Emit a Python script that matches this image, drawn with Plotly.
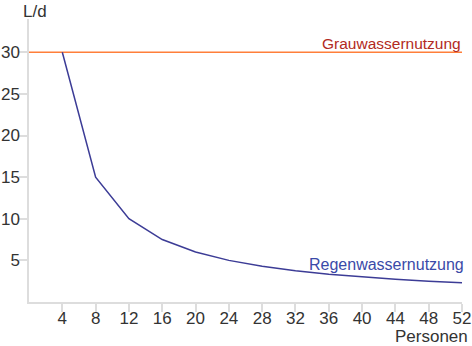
import plotly.graph_objects as go

personen = [4, 8, 12, 16, 20, 24, 28, 32, 36, 40, 44, 48, 52]
regenwasser = [30, 15, 10, 7.5, 6, 5, 4.3, 3.75, 3.33, 3, 2.73, 2.5, 2.31]
grau_x = [0, 52]
grau_y = [30, 30]
x_ticks = [4, 8, 12, 16, 20, 24, 28, 32, 36, 40, 44, 48, 52]
y_ticks = [5, 10, 15, 20, 25, 30]

fig = go.Figure()
fig.add_trace(go.Scatter(x=grau_x, y=grau_y, mode="lines",
                         line=dict(color="#ff7f3a", width=1.5), showlegend=False))
fig.add_trace(go.Scatter(x=personen, y=regenwasser, mode="lines",
                         line=dict(color="#3c3c96", width=1.5), showlegend=False))

fam = "Liberation Sans, Arial, sans-serif"
font = dict(family=fam, size=17, color="#333333")
axis_common = dict(showgrid=False, zeroline=False, automargin=False,
                   showline=True, linecolor="#dddddd", linewidth=1.5,
                   ticks="outside", ticklen=8, tickcolor="#dddddd", tickwidth=1.5,
                   tickfont=font)
fig.update_layout(
    width=472, height=346,
    margin=dict(l=29, r=10, t=19, b=44, autoexpand=False),
    paper_bgcolor="white", plot_bgcolor="white",
    font=font,
    xaxis=dict(range=[0, 52], tickvals=x_ticks, ticklabelstandoff=-8, **axis_common),
    yaxis=dict(range=[0, 34], tickvals=y_ticks, ticklabelstandoff=-4, **axis_common),
    annotations=[
        dict(text="L/d", x=-0.018, y=1.025, xref="paper", yref="paper", showarrow=False,
             xanchor="left", yanchor="middle", font=font),
        dict(text="Personen", x=1.0185, y=-0.121, xref="paper", yref="paper", showarrow=False,
             xanchor="right", yanchor="middle", font=font),
        dict(text="Grauwassernutzung", x=1.002, y=0.912, xref="paper", yref="paper",
             showarrow=False, xanchor="right", yanchor="middle",
             font=dict(family=fam, size=15.5, color="#b22a22")),
        dict(text="Regenwassernutzung", x=1.009, y=0.131, xref="paper", yref="paper",
             showarrow=False, xanchor="right", yanchor="middle",
             font=dict(family=fam, size=16, color="#3a4aa8")),
    ],
)
fig.write_html("out.html")
